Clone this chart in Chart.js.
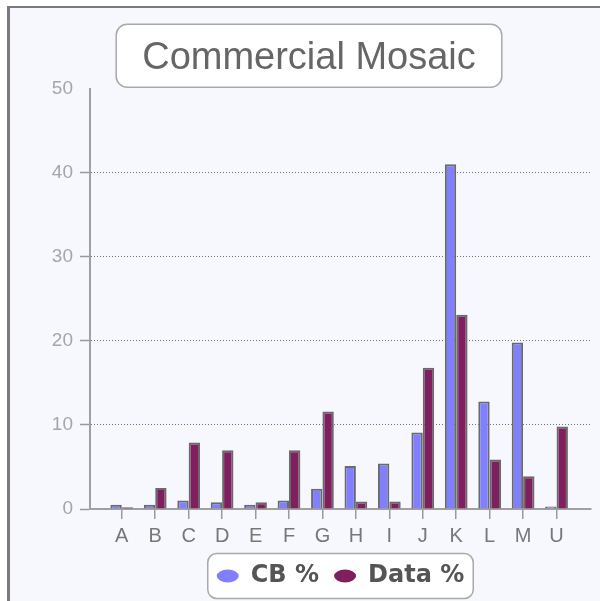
<!DOCTYPE html>
<html>
<head>
<meta charset="utf-8">
<script src="https://cdn.jsdelivr.net/npm/chart.js@4"></script>
<style>
  html, body { margin: 0; padding: 0; background: #ffffff; }
  #frame {
    position: absolute; left: 7px; top: 6px; width: 600px; height: 600px;
    background: #f7f8fd; border-left: 3px solid #7a7a7a; border-top: 2px solid #7a7a7a;
  }
  #wrap { position: absolute; left: 0; top: 0; width: 600px; height: 601px; }
</style>
</head>
<body>
<div id="frame"></div>
<div id="wrap"><canvas id="chart" width="600" height="601"></canvas></div>
<script>
// categories and values
const categories = ['A', 'B', 'C', 'D', 'E', 'F', 'G', 'H', 'I', 'J', 'K', 'L', 'M', 'U'];
const cbValues = [0.5, 0.5, 1.0, 0.8, 0.5, 1.0, 2.4, 5.1, 5.4, 9.1, 41.0, 12.8, 19.8, 0.3];
const dataValues = [0.2, 2.5, 7.9, 7.0, 0.8, 7.0, 11.6, 0.9, 0.9, 16.8, 23.1, 5.9, 3.9, 9.8];
const yTicks = [0, 10, 20, 30, 40, 50];

const TITLE_FONT = { family: 'Liberation Sans, Arial, sans-serif', size: 38 };
const TITLE_PAD = { top: 36, bottom: 7 };
const LEGEND_PAD = 15;

function roundRect(ctx, x, y, w, h, r) {
    ctx.beginPath();
    ctx.moveTo(x + r, y);
    ctx.arcTo(x + w, y, x + w, y + h, r);
    ctx.arcTo(x + w, y + h, x, y + h, r);
    ctx.arcTo(x, y + h, x, y, r);
    ctx.arcTo(x, y, x + w, y, r);
    ctx.closePath();
}

// white rounded boxes behind the title and the legend
const boxes = {
    id: 'boxes',
    beforeDraw(chart) {
        const ctx = chart.ctx;
        ctx.save();
        ctx.fillStyle = '#ffffff';
        ctx.strokeStyle = '#a9a9a9';
        ctx.lineWidth = 1.5;

        const t = chart.titleBlock;
        ctx.font = TITLE_FONT.size + 'px ' + TITLE_FONT.family;
        const tw = ctx.measureText(chart.options.plugins.title.text).width;
        const cx = (t.left + t.right) / 2;
        const cy = t.top + TITLE_PAD.top + TITLE_FONT.size * 1.2 / 2 - 3;
        roundRect(ctx, cx - tw / 2 - 26, cy - 31.5, tw + 52, 63, 11);
        ctx.fill();
        ctx.stroke();

        const lg = chart.legend;
        const lw = lg.lineWidths[0];
        const startX = (lg.left + LEGEND_PAD + lg.right - lw) / 2;
        const itemH = lg.options.labels.font.size;
        const ly = lg.top + LEGEND_PAD + itemH / 2;
        roundRect(ctx, startX - 9, ly - 22.5, lw - LEGEND_PAD + 18, 45, 9);
        ctx.fill();
        ctx.stroke();
        ctx.restore();
    }
};

new Chart(document.getElementById('chart'), {
    type: 'bar',
    data: {
        datasets: [{
            label: 'CB %',
            data: cbValues.map((v, i) => ({ x: i, y: v })),
            backgroundColor: '#8080ff',
            borderColor: '#6a6a6a',
            borderWidth: 2
        }, {
            label: 'Data %',
            data: dataValues.map((v, i) => ({ x: i, y: v })),
            backgroundColor: '#7f1f5f',
            borderColor: '#6a6a6a',
            borderWidth: 2
        }]
    },
    options: {
        responsive: false,
        animation: false,
        categoryPercentage: 0.68,
        barPercentage: 1,
        layout: { padding: { left: 27, right: 9, top: 0, bottom: 3 } },
        plugins: {
            tooltip: { enabled: false },
            title: {
                display: true,
                text: 'Commercial Mosaic',
                color: '#666666',
                font: { family: TITLE_FONT.family, size: TITLE_FONT.size, weight: 'normal', lineHeight: 1.2 },
                padding: TITLE_PAD
            },
            legend: {
                position: 'bottom',
                fullSize: false,
                labels: {
                    usePointStyle: true,
                    pointStyle: 'circle',
                    pointStyleWidth: 22,
                    boxHeight: 9.2,
                    padding: LEGEND_PAD,
                    color: '#555555',
                    font: { family: 'DejaVu Sans, sans-serif', size: 24, weight: 'bold' },
                    generateLabels: chart => Chart.defaults.plugins.legend.labels.generateLabels(chart)
                        .map(l => ({ ...l, lineWidth: 0, strokeStyle: 'rgba(0,0,0,0)' }))
                }
            }
        },
        scales: {
            x: {
                type: 'linear',
                offset: false,
                min: -0.95,
                max: 14.03,
                afterBuildTicks: scale => { scale.ticks = categories.map((c, i) => ({ value: i })); },
                afterFit: scale => { scale.height = 40; },
                ticks: {
                    autoSkip: false,
                    maxRotation: 0,
                    padding: 5,
                    color: '#777777',
                    font: { family: 'Liberation Sans, Arial, sans-serif', size: 20 },
                    callback: v => categories[v]
                },
                grid: { offset: false, drawOnChartArea: false, tickLength: 10, color: '#9a9a9a', lineWidth: 1.5 },
                border: { color: '#a0a0a0', width: 2 }
            },
            y: {
                min: 0,
                max: 50,
                afterBuildTicks: scale => { scale.ticks = yTicks.map(v => ({ value: v })); },
                afterFit: scale => { scale.width = 63; },
                ticks: {
                    padding: 7,
                    color: '#a6a6a6',
                    font: { family: 'Liberation Sans, Arial, sans-serif', size: 19 }
                },
                grid: {
                    color: c => (c.tick && (c.tick.value === 50 || c.tick.value === 0)) ? 'rgba(0,0,0,0)' : '#707070',
                    tickColor: c => (c.tick && c.tick.value === 50) ? 'rgba(0,0,0,0)' : '#9a9a9a',
                    lineWidth: 1,
                    tickWidth: 1.5,
                    tickBorderDash: [],
                    tickLength: 10
                },
                border: { color: '#a0a0a0', width: 2, dash: [1, 2] }
            }
        }
    },
    plugins: [boxes]
});
</script>
</body>
</html>
